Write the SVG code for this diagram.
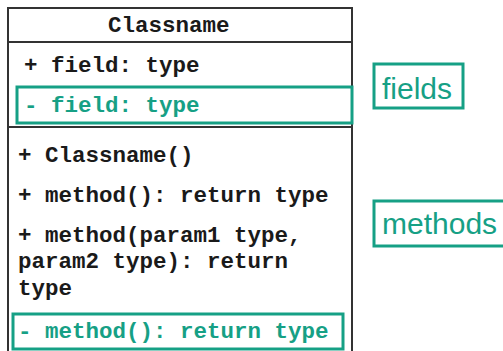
<svg xmlns="http://www.w3.org/2000/svg" width="503" height="351" viewBox="0 0 503 351">
<style>
.m{font-family:"Liberation Mono","Courier New",monospace;font-weight:bold;font-size:22.5px;fill:#1a1a1a}
.g{fill:#16a085}
.gb{fill:none;stroke:#16a085;stroke-width:3}
.lab{font-family:"Liberation Sans",Arial,sans-serif;font-size:30px;fill:#16a085}
.ln{stroke:#333;stroke-width:2;fill:none}
</style>
<rect width="503" height="351" fill="#fff"/>
<g id="class">
<path class="ln" d="M8,360 V8 H352 V360"/>
<line class="ln" x1="8" y1="42" x2="352" y2="42"/>
<line class="ln" x1="8" y1="127" x2="352" y2="127"/>
<text class="m" x="108" y="32">Classname</text>
<text class="m" x="24" y="72">+ field: type</text>
<rect class="gb" x="17" y="87" width="335" height="36"/>
<text class="m g" x="24" y="112">- field: type</text>
<text class="m" x="18" y="162">+ Classname()</text>
<text class="m" x="18" y="202">+ method(): return type</text>
<text class="m" x="18" y="242">+ method(param1 type,</text>
<text class="m" x="18" y="268">param2 type): return</text>
<text class="m" x="18" y="295">type</text>
<rect class="gb" x="13" y="314" width="330" height="35"/>
<text class="m g" x="18" y="338">- method(): return type</text>
</g>
<g id="fields">
<rect class="gb" x="374" y="64" width="89" height="44"/>
<text class="lab" x="382" y="99">fields</text>
</g>
<g id="methods">
<rect class="gb" x="374" y="201" width="140" height="45"/>
<text class="lab" x="382" y="234">methods</text>
</g>
</svg>
